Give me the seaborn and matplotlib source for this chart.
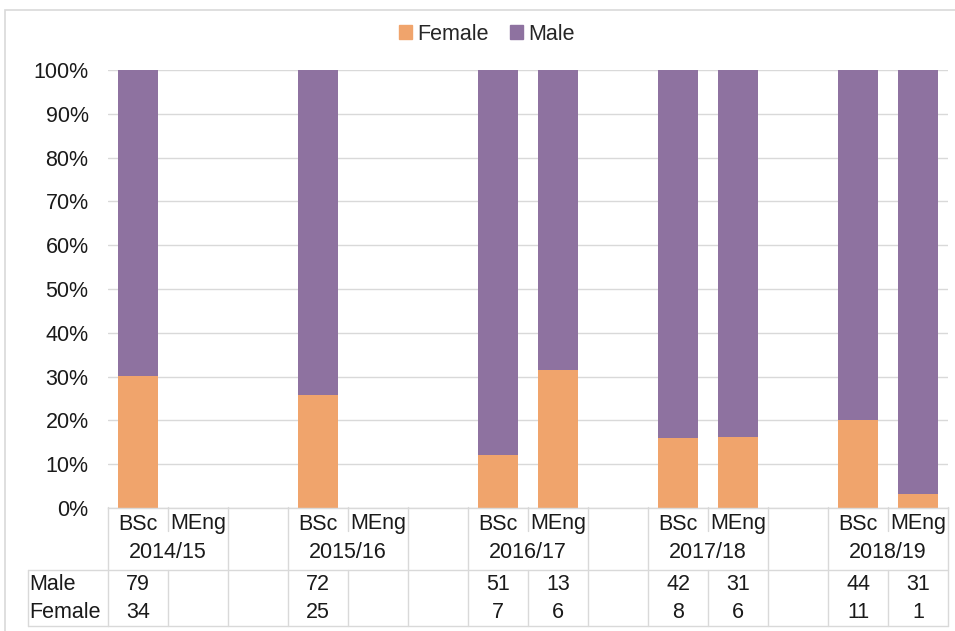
import matplotlib
matplotlib.use("Agg")
import matplotlib.pyplot as plt
import matplotlib.transforms as mtransforms
from matplotlib.patches import Patch, Rectangle
import numpy as np
import pandas as pd
import seaborn as sns

# Data: head counts per year and programme
years = ["2014/15", "2015/16", "2016/17", "2017/18", "2018/19"]
programmes = ["BSc", "MEng"]
male_bsc = [79, 72, 51, 42, 44]
male_meng = [None, None, 13, 31, 31]
female_bsc = [34, 25, 7, 8, 11]
female_meng = [None, None, 6, 6, 1]

female_color = "#F0A46C"
male_color = "#8E72A0"
grid_color = "#D9D9D9"
text_color = "#1A1A1A"
fs = 15.5

# one slot per programme, plus an empty slot between years
rows = []
for i, year in enumerate(years):
    for prog, m_list, f_list in [("BSc", male_bsc, female_bsc), ("MEng", male_meng, female_meng)]:
        m, f = m_list[i], f_list[i]
        has = m is not None
        rows.append({
            "slot": f"{year} {prog}", "year": year, "programme": prog,
            "male": m, "female": f,
            "total_pct": 100.0 if has else 0.0,
            "female_pct": 100.0 * f / (m + f) if has else 0.0,
        })
    if i < len(years) - 1:
        rows.append({"slot": f"{year} gap", "year": year, "programme": "",
                     "male": None, "female": None, "total_pct": 0.0, "female_pct": 0.0})
df = pd.DataFrame(rows)
slots = list(df["slot"])

sns.set_theme(style="white")
plt.rcParams["font.family"] = ["Liberation Sans", "DejaVu Sans"]

fig = plt.figure(figsize=(9.55, 6.31), dpi=100)
ax = fig.add_axes([108 / 955, 1 - 508 / 631, 840 / 955, 438 / 631])

sns.barplot(data=df, x="slot", y="total_pct", order=slots, color=male_color,
            saturation=1, width=0.67, ax=ax, errorbar=None, linewidth=0)
sns.barplot(data=df, x="slot", y="female_pct", order=slots, color=female_color,
            saturation=1, width=0.67, ax=ax, errorbar=None, linewidth=0)

ax.set_xlim(-0.5, len(slots) - 0.5)
ax.set_ylim(0, 100)
ax.set_yticks(np.arange(0, 101, 10))
ax.set_yticklabels([f"{v}%" for v in range(0, 101, 10)], fontsize=fs, color=text_color)
ax.yaxis.grid(True, color=grid_color, lw=1)
ax.set_axisbelow(True)
ax.tick_params(axis="y", length=0, pad=14)
ax.set_xticks([])
ax.set_xlabel("")
ax.set_ylabel("")
for side in ["top", "right", "left"]:
    ax.spines[side].set_visible(False)
ax.spines["bottom"].set_color(grid_color)
ax.spines["bottom"].set_linewidth(1)

# category axis and data table below the plot
trans = mtransforms.blended_transform_factory(ax.transData, ax.transAxes)
ph = 438.0


def ay(py):
    return (508 - py) / ph


line_kw = dict(color=grid_color, lw=1, transform=trans, clip_on=False)
for b in np.arange(-0.5, len(slots), 1.0):
    idx = int(b + 0.5)
    between_progs = 0 < idx < len(slots) and df["programme"].iloc[idx] == "MEng"
    if between_progs:
        ax.plot([b, b], [ay(507), ay(531)], **line_kw)
        ax.plot([b, b], [ay(570), ay(626)], **line_kw)
    else:
        ax.plot([b, b], [ay(507), ay(626)], **line_kw)

for py in [570, 626]:
    ax.plot([-0.5, len(slots) - 0.5], [ay(py), ay(py)], **line_kw)

# label column of the table, in figure coordinates
fig.add_artist(plt.Line2D([28 / 955, 108 / 955], [1 - 570 / 631, 1 - 570 / 631], color=grid_color, lw=1))
fig.add_artist(plt.Line2D([28 / 955, 108 / 955], [1 - 626 / 631, 1 - 626 / 631], color=grid_color, lw=1))
fig.add_artist(plt.Line2D([28 / 955, 28 / 955], [1 - 570 / 631, 1 - 626 / 631], color=grid_color, lw=1))
fig.text(29 / 955, 1 - 585 / 631, "Male", fontsize=fs, color=text_color, va="center")
fig.text(29 / 955, 1 - 613 / 631, "Female", fontsize=fs, color=text_color, va="center")

txt_kw = dict(transform=trans, ha="center", va="center", fontsize=fs, color=text_color, clip_on=False)
for i, r in df.iterrows():
    if r["programme"]:
        ax.text(i, ay(524), r["programme"], **txt_kw)
    if r["male"] is not None and not pd.isna(r["male"]):
        ax.text(i, ay(585), f"{int(r['male'])}", **txt_kw)
        ax.text(i, ay(613), f"{int(r['female'])}", **txt_kw)
for k, year in enumerate(years):
    ax.text(3 * k + 0.5, ay(553), year, **txt_kw)

# legend
handles = [Patch(color=female_color, label="Female"), Patch(color=male_color, label="Male")]
fig.legend(handles=handles, loc="center", bbox_to_anchor=(487 / 955, 1 - 34 / 631), ncol=2,
           frameon=False, fontsize=fs, handlelength=0.6, handleheight=0.6,
           handletextpad=0.25, columnspacing=1.0)

# outer chart border
fig.add_artist(Rectangle((5 / 955, -0.05), 1.0, 1 - 10 / 631 + 0.05, transform=fig.transFigure,
                         fill=False, edgecolor=grid_color, lw=1.2))

fig.savefig("out.png", dpi=100)
